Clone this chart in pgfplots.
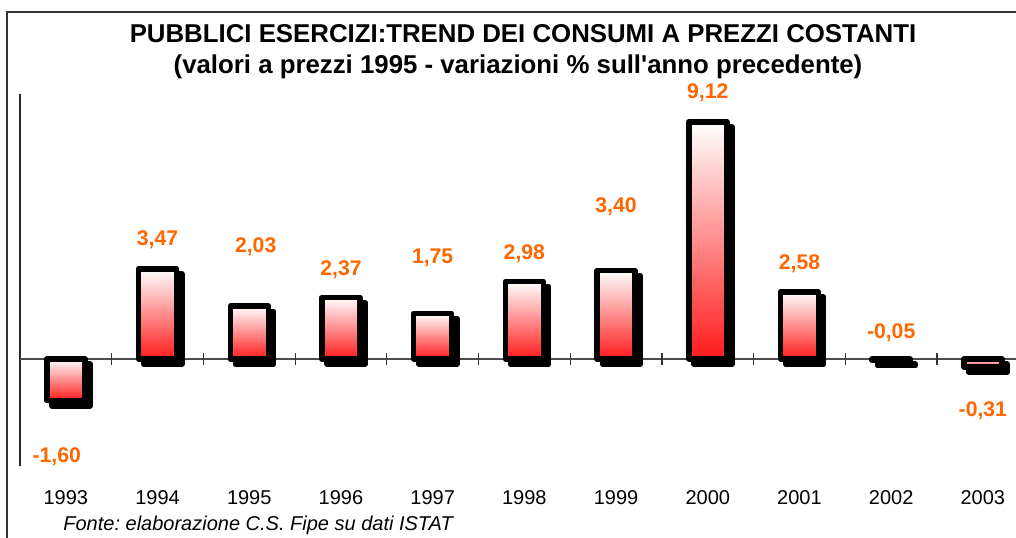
\documentclass[border=0pt]{standalone}
\usepackage{pgfplots}
\pgfplotsset{compat=1.18}
\usepackage{pgfplotstable}
\usepackage{fontspec}
\setmainfont{Liberation Sans}
\definecolor{lblorange}{HTML}{FF6600}
\definecolor{barred}{HTML}{FF1A1A}

\pgfplotstableread{
x   y
0   -1.60
1    3.47
2    2.03
3    2.37
4    1.75
5    2.98
6    3.40
7    9.12
8    2.58
9   -0.05
10  -0.31
}\bars

\pgfplotstableread{
x     ly     lab
-0.1  -3.77  -1,60
1     4.58   3,47
2.07  4.31   2,03
3     3.42   2,37
4     3.88   1,75
5     4.04   2,98
6     5.85   3,40
7     10.23  9,12
8     3.67   2,58
9     1.02   -0,05
10    -2.00  -0,31
}\labels

\begin{document}
\frenchspacing
\begin{tikzpicture}
\useasboundingbox (0,0) rectangle (508pt,-268.5pt);
% outer frame
\draw[black!80, line width=1pt] (3.5pt,-280pt) -- (3.5pt,-6pt) -- (520pt,-6pt);
% title
\node[anchor=base, font=\fontsize{12.9}{15}\selectfont\bfseries] at (261.5pt,-21pt)
  {PUBBLICI ESERCIZI:TREND DEI CONSUMI A PREZZI COSTANTI};
\node[anchor=base, font=\fontsize{12.9}{15}\selectfont\bfseries] at (259pt,-36.5pt)
  {(valori a prezzi 1995 - variazioni \% sull\textquotesingle anno precedente)};
% footnote
\node[anchor=base west, inner sep=0pt, font=\fontsize{10}{12}\selectfont\itshape] at (31.5pt,-265.3pt)
  {Fonte: elaborazione C.S. Fipe su dati ISTAT};
\begin{axis}[
  at={(10pt,-232.8pt)}, anchor=south west,
  x=45.85pt, y=13pt,
  xmin=-0.5, xmax=10.45, ymin=-4.1, ymax=10.2,
  clip=false,
  axis line style={draw=none},
  ytick=\empty,
  xtick={0,...,10},
  xticklabels={1993,1994,1995,1996,1997,1998,1999,2000,2001,2002,2003},
  xtick pos=bottom,
  major tick length=0pt,
  xticklabel style={anchor=base, yshift=-19.5pt, font=\fontsize{10}{12}\selectfont},
]
% y axis line and zero line
\draw[black!85, line width=0.6pt] (axis cs:-0.5,-4.1) -- (axis cs:-0.5,10.2);
\draw[black!70, line width=0.6pt] (axis cs:-0.5,0) -- (axis cs:10.45,0);
\pgfplotsinvokeforeach{0.5,1.5,2.5,3.5,4.5,5.5,6.5,7.5,8.5,9.5}{
  \draw[black!80, line width=0.6pt] ([yshift=-3.2pt]axis cs:#1,0) -- ([yshift=3.2pt]axis cs:#1,0);
}
% shadows
\addplot[ybar, bar width=19pt, bar shift=0pt, fill=black, draw=black,
  line width=2.75pt, line join=round, xshift=2.6pt, yshift=-2.6pt]
  table[x=x, y=y] {\bars};
% bars, one plot each so every bar has its own gradient
\pgfplotsinvokeforeach{0,...,10}{
  \addplot[ybar, bar width=19pt, bar shift=0pt, top color=white, bottom color=barred,
    draw=black, line width=2.75pt, line join=round,
    x filter/.expression={abs(x-#1)<0.2 ? x : nan}]
    table[x=x, y=y] {\bars};
}
% labels
\addplot[only marks, mark=none, nodes near coords, point meta=explicit symbolic,
  nodes near coords style={anchor=center, text=lblorange,
    font=\fontsize{10.6}{12}\selectfont\bfseries}]
  table[x=x, y=ly, meta=lab] {\labels};
\end{axis}
\end{tikzpicture}
\end{document}
